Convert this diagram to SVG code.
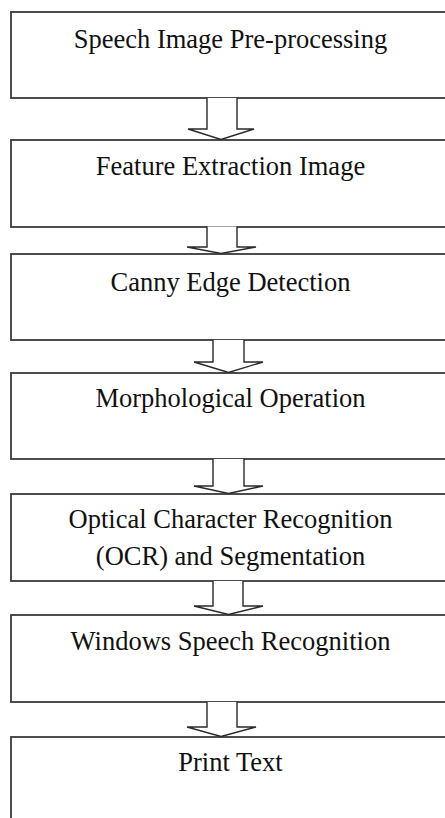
<svg xmlns="http://www.w3.org/2000/svg" width="445" height="818" viewBox="0 0 445 818">
  <style>
    .box { fill: #ffffff; stroke: #3a3a3a; stroke-width: 1.8; }
    .arrow { fill: #ffffff; stroke: #2a2a2a; stroke-width: 1.4; stroke-linejoin: miter; }
    .label { font-family: "Liberation Serif", "Times New Roman", serif; font-size: 26.5px; fill: #111111; text-anchor: middle; }
  </style>
  <rect x="0" y="0" width="445" height="818" fill="#ffffff"/>

  <g id="node-preprocessing">
    <rect class="box" x="11" y="12" width="440" height="86"/>
    <text class="label" x="230.5" y="47.5">Speech Image Pre-processing</text>
  </g>
  <g id="node-feature-extraction">
    <rect class="box" x="11" y="140" width="440" height="87"/>
    <text class="label" x="230.5" y="175">Feature Extraction Image</text>
  </g>
  <g id="node-canny">
    <rect class="box" x="11" y="254" width="440" height="86"/>
    <text class="label" x="230.5" y="290.5">Canny Edge Detection</text>
  </g>
  <g id="node-morphological">
    <rect class="box" x="11" y="373" width="440" height="86"/>
    <text class="label" x="230.5" y="406.5">Morphological Operation</text>
  </g>
  <g id="node-ocr">
    <rect class="box" x="11" y="494" width="440" height="87"/>
    <text class="label" x="230.5" y="528">Optical Character Recognition</text>
    <text class="label" x="230.5" y="565">(OCR) and Segmentation</text>
  </g>
  <g id="node-speech-recognition">
    <rect class="box" x="11" y="615" width="440" height="87"/>
    <text class="label" x="230.5" y="650">Windows Speech Recognition</text>
  </g>
  <g id="node-print-text">
    <rect class="box" x="11" y="737" width="440" height="100"/>
    <text class="label" x="230.5" y="770.5">Print Text</text>
  </g>

  <g id="connectors">
    <path class="arrow" d="M207,98 V129 H188 L221,139.5 L254,129 H237 V98"/>
    <path class="arrow" d="M207,226.5 V247 H187 L221,253.5 L256,247 H237 V226.5"/>
    <path class="arrow" d="M213,340 V362 H194 L228.5,372.5 L263,362 H244 V340"/>
    <path class="arrow" d="M213,459 V486 H194 L228.5,493.5 L263,486 H244 V459"/>
    <path class="arrow" d="M213,581 V606 H194 L228.5,614.5 L263,606 H243 V581"/>
    <path class="arrow" d="M207,702 V727 H187 L221,736.5 L256,727 H237 V702"/>
  </g>
</svg>
